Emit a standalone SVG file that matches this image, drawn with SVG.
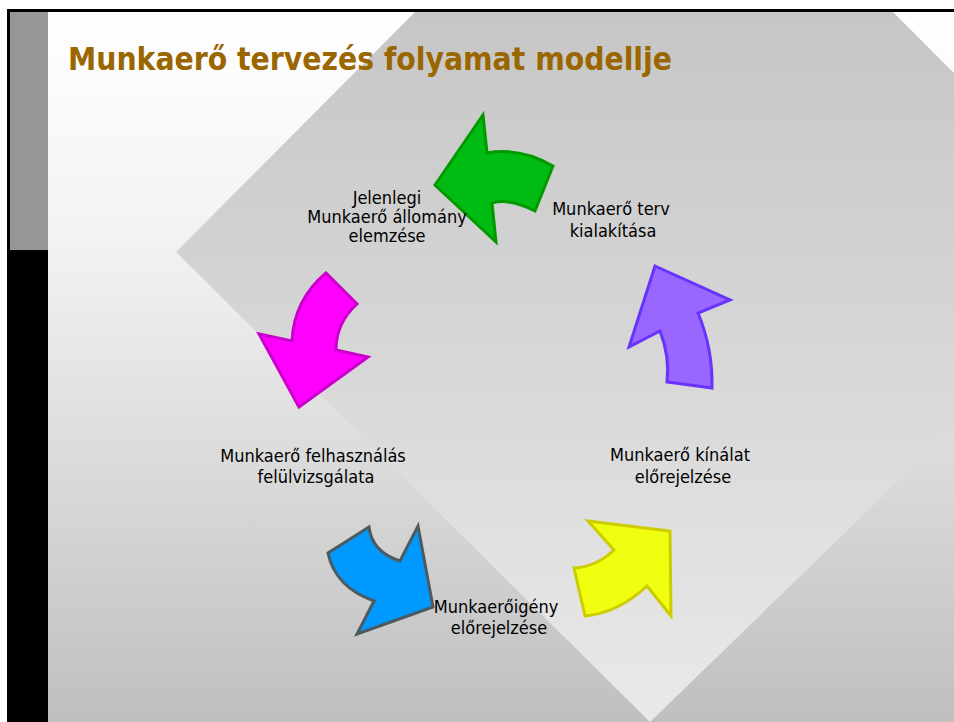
<svg xmlns="http://www.w3.org/2000/svg" width="954" height="722" viewBox="0 0 954 722">
<defs>
<linearGradient id="bgGrad" gradientUnits="userSpaceOnUse" x1="0" y1="12" x2="0" y2="722">
<stop offset="0" stop-color="#ffffff"/>
<stop offset="0.33" stop-color="#f2f2f2"/>
<stop offset="1" stop-color="#bfbfbf"/>
</linearGradient>
<linearGradient id="diaGrad" gradientUnits="userSpaceOnUse" x1="0" y1="12" x2="0" y2="722">
<stop offset="0" stop-color="#c6c6c6"/>
<stop offset="1" stop-color="#e9e9e9"/>
</linearGradient>
<style>
.lbl{font-family:"DejaVu Sans Condensed","DejaVu Sans",sans-serif;font-stretch:condensed;font-size:18px;fill:#000;text-anchor:middle}
.title{font-family:"DejaVu Sans Condensed","DejaVu Sans",sans-serif;font-stretch:condensed;font-weight:bold;font-size:31.5px;fill:#996600}
.arr{stroke-width:3;stroke-linejoin:miter}
</style>
</defs>
<g id="background">
<rect x="0" y="0" width="954" height="722" fill="#ffffff"/>
<rect x="48" y="12" width="906" height="710" fill="url(#bgGrad)"/>
<polygon points="415,12 893,12 954,73 954,427 650,722 176,252" fill="url(#diaGrad)"/>
<rect x="7" y="9" width="947" height="3" fill="#000000"/>
<rect x="7" y="9" width="3" height="713" fill="#000000"/>
<rect x="10" y="12" width="38" height="238" fill="#969696"/>
<rect x="7" y="250" width="41" height="472" fill="#000000"/>
<text class="title" x="68" y="70" textLength="604" lengthAdjust="spacingAndGlyphs">Munkaerő tervezés folyamat modellje</text>
</g>
<g id="connectors">
<path id="arrow-green" class="arr" fill="#00bb11" stroke="#009a00" d="M435,185 L483,115 L487,153 Q520,147 553,166 L535,211 Q510,198 492,203 L496,242 Z"/>
<path id="arrow-purple" class="arr" fill="#9966ff" stroke="#6633ff" d="M655,266 L730,300 L698,313 Q713,349 712,388 L667,382 Q670,357 660,331 L629,347 Z"/>
<path id="arrow-yellow" class="arr" fill="#f0ff10" stroke="#cccc00" d="M588,521 L670,531 L671,616 L647,586 Q618,613 585,616 L574,568 Q596,567 614,550 Z"/>
<path id="arrow-blue" class="arr" fill="#0099ff" stroke="#4d5b5e" d="M369,527 Q372,552 400,561 L418,526 L433,607 L357,634 L374,601 Q335,587 328,553 Z"/>
<path id="arrow-magenta" class="arr" fill="#ff00ff" stroke="#cc00cc" d="M326,273 L357,304 Q336,323 336,350 L368,357 L299,407 L259,334 L292,341 Q294,300 326,273 Z"/>
</g>
<g id="node-jelenlegi">
<text class="lbl" x="387" y="204">Jelenlegi</text>
<text class="lbl" x="387" y="223">Munkaerő állomány</text>
<text class="lbl" x="387" y="242">elemzése</text>
</g>
<g id="node-terv">
<text class="lbl" x="611" y="215">Munkaerő terv</text>
<text class="lbl" x="613" y="237">kialakítása</text>
</g>
<g id="node-kinalat">
<text class="lbl" x="680" y="461">Munkaerő kínálat</text>
<text class="lbl" x="683" y="483">előrejelzése</text>
</g>
<g id="node-igeny">
<text class="lbl" x="496" y="613">Munkaerőigény</text>
<text class="lbl" x="499" y="634">előrejelzése</text>
</g>
<g id="node-felhasznalas">
<text class="lbl" x="313" y="462">Munkaerő felhasználás</text>
<text class="lbl" x="316" y="483">felülvizsgálata</text>
</g>
</svg>
